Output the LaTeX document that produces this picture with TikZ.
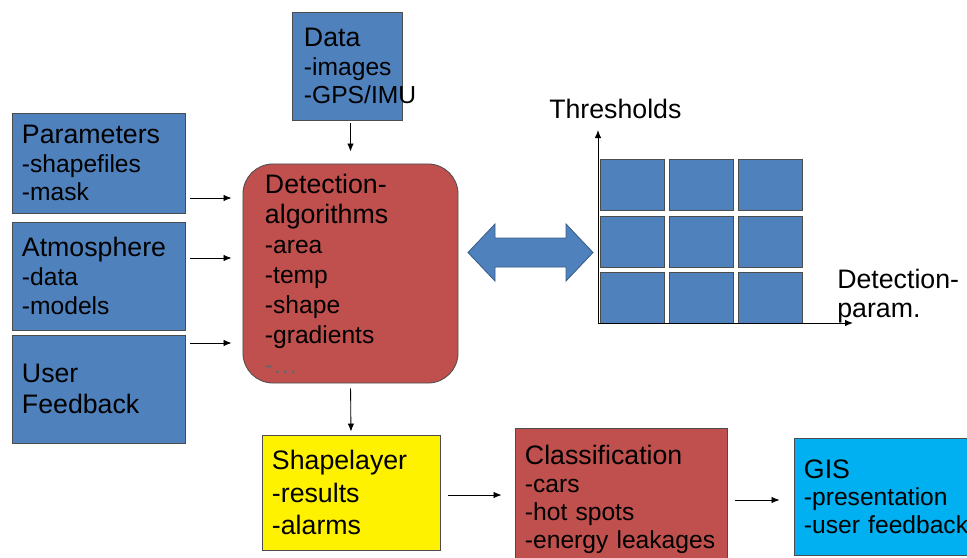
\documentclass[tikz,border=0pt]{standalone}
\usepackage{fontspec}
\setmainfont{Liberation Sans}
\usetikzlibrary{positioning,arrows.meta}

\definecolor{boxblue}{HTML}{4F81BD}
\definecolor{boxred}{HTML}{C0504D}
\definecolor{boxcyan}{HTML}{00B0F0}
\definecolor{edgeblue}{HTML}{385D8A}
\newcommand{\ttl}{\fontsize{19}{20.6}\selectfont}
\newcommand{\itm}[1][20.4]{\fontsize{17.5}{#1}\selectfont}

\begin{document}
\begin{tikzpicture}[
        x=0.025cm, y=-0.025cm,
        block/.style = {draw=black!70, line width=0.6pt, rectangle, align=left, inner xsep=0.25cm, inner ysep=0pt, font=\itm},
        cell/.style = {draw=black!70, fill=boxblue, line width=0.6pt, minimum width=1.6cm, minimum height=1.275cm, inner sep=0pt},
        dblarrow/.style = {draw=edgeblue, fill=boxblue, line width=0.6pt, line join=miter},
        axtext/.style = {font=\ttl, inner sep=0pt},
        line/.style = {draw, line width=0.6pt, -{Latex[length=2mm,width=1.6mm]}}
    ]

    \useasboundingbox (0,0) rectangle (967,558);

    % Nodes
    \node [block, fill=boxblue, text width=2.15cm, inner xsep=0.3cm, minimum height=2.7cm] (data) at (347,66) {{\ttl Data}\\\mbox{-images}\\\mbox{-GPS/IMU}};
    \node [block, fill=boxblue, text width=3.825cm, minimum height=2.5cm] (param) at (98.5,163) {{\ttl Parameters}\\-shapefiles\\-mask};
    \node [block, fill=boxblue, text width=3.825cm, minimum height=2.7cm] (atmo) at (98.5,276) {{\ttl Atmosphere}\\-data\\-models};
    \node [block, fill=boxblue, text width=3.825cm, minimum height=2.7cm, font={\fontsize{19}{21.5}\selectfont}] (user) at (98.5,389) {User\\Feedback};
    \node [block, fill=boxred, rounded corners=0.75cm, text width=4.275cm, inner xsep=0.55cm, minimum height=5.475cm, font={\itm[21.3]}] (det) at (350.5,273.5)
        {{\ttl Detection-}\\{\ttl algorithms}\\-area\\-temp\\-shape\\-gradients\\{\color{black!60}-\ldots}};
    \node [block, fill=yellow, text width=3.95cm, minimum height=2.875cm, font={\fontsize{19}{22.9}\selectfont}] (shape) at (351,492.5) {Shapelayer\\-results\\-alarms};
    \node [block, fill=boxred, text width=4.8cm, minimum height=3.55cm, font={\itm[19.9]}] (class) at (621,499) {{\ttl Classification}\\-cars\\-hot spots\\\mbox{-energy leakages}};
    \node [block, fill=boxcyan, text width=4.15cm, minimum height=2.925cm, font={\itm[19.6]}] (gis) at (887,496.5) {{\ttl GIS}\\-presentation\\\mbox{-user feedback}};

    % Threshold grid
    \foreach \i in {0,1,2}
        \foreach \j in {0,1,2}
            \node [cell] (c\i\j) at ({632+69*\i},{185+56.5*\j}) {};
    \draw [dblarrow] (468,252.5) -- (495,224) -- (495,238) -- (566,238) -- (566,224) -- (593,252.5)
        -- (566,281) -- (566,267) -- (495,267) -- (495,281) -- cycle;
    \coordinate (orig) at (598,323);
    \coordinate (ytip) at (598,130);
    \coordinate (xtip) at (853,323);
    \draw [line] (orig) -- (ytip);
    \draw [line] (orig) -- (xtip);
    \node [axtext, anchor=base west] (thr) at (549,118) {Thresholds};
    \node [axtext, anchor=south west, align=left] (dpar) at (837,323) {Detection-\\param.};

    % Lines
    \coordinate (pin) at (0,198);
    \coordinate (ain) at (0,258);
    \coordinate (uin) at (0,343);
    \coordinate (sy) at (0,495);
    \coordinate (gy) at (0,500);
    \draw [line, shorten <=0.075cm, shorten >=0.3cm] (det.north |- data.south) -- (det.north);
    \draw [line, shorten <=0.125cm, shorten >=0.275cm] (param.east |- pin) -- (det.west |- pin);
    \draw [line, shorten <=0.125cm, shorten >=0.275cm] (atmo.east |- ain) -- (det.west |- ain);
    \draw [line, shorten <=0.125cm, shorten >=0.275cm] (user.east |- uin) -- (det.west |- uin);
    \draw [line, shorten <=0.125cm, shorten >=0.075cm] (det.south) -- (shape.north);
    \draw [line, shorten <=0.2cm, shorten >=0.325cm] (shape.east |- sy) -- (class.west |- sy);
    \draw [line, shorten <=0.2cm, shorten >=0.35cm] (class.east |- gy) -- (gis.west |- gy);
\end{tikzpicture}
\end{document}
